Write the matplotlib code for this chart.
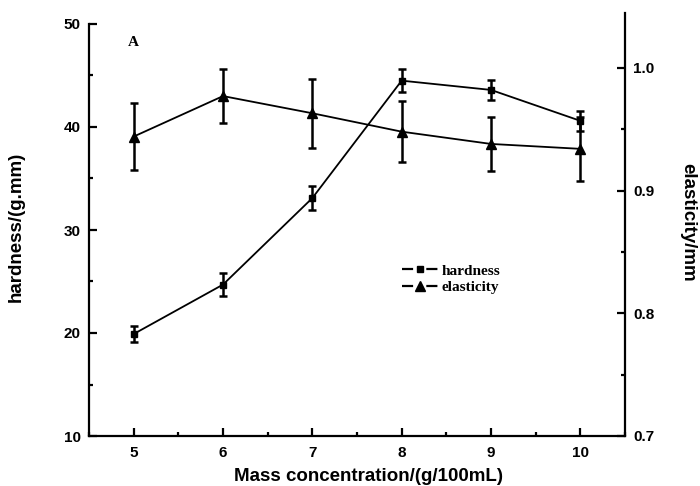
import matplotlib
matplotlib.use("Agg")
import matplotlib.pyplot as plt
from matplotlib.lines import Line2D
from matplotlib.ticker import MultipleLocator

# Data
concentration = [5, 6, 7, 8, 9, 10]
hardness = [19.9, 24.7, 33.1, 44.5, 43.6, 40.6]
hardness_err = [0.8, 1.1, 1.2, 1.15, 1.0, 1.0]
elasticity = [0.944, 0.977, 0.963, 0.948, 0.938, 0.934]
elasticity_err = [0.027, 0.022, 0.028, 0.025, 0.022, 0.026]
series_labels = ['hardness', 'elasticity']

plt.rcParams['font.family'] = ['Liberation Sans', 'DejaVu Sans']
plt.rcParams['lines.scale_dashes'] = False

FW, FH = 700, 486
fig = plt.figure(figsize=(FW / 100, FH / 100), dpi=100)
L, B, W = 89 / FW, 50 / FH, (625 - 89) / FW
ax = fig.add_axes([L, B, W, (436 - 24) / FH])
ax2 = fig.add_axes([L, B, W, (436 - 13) / FH])
ax2.patch.set_alpha(0)

lw_sp = 1.6
for a in (ax, ax2):
    for s in a.spines.values():
        s.set_linewidth(lw_sp)
    a.spines['top'].set_visible(False)

ax.spines['right'].set_visible(False)
ax2.spines['left'].set_visible(False)
ax2.spines['bottom'].set_visible(False)
ax2.yaxis.tick_right()
ax2.xaxis.set_visible(False)

ax.set_xlim(4.5, 10.5)
ax2.set_xlim(4.5, 10.5)
ax.set_ylim(10, 50)
ax2.set_ylim(0.7, 1.0447)

ax.xaxis.set_major_locator(MultipleLocator(1))
ax.xaxis.set_minor_locator(MultipleLocator(0.5))
ax.yaxis.set_major_locator(MultipleLocator(10))
ax.yaxis.set_minor_locator(MultipleLocator(5))
ax2.yaxis.set_major_locator(MultipleLocator(0.1))
ax2.yaxis.set_minor_locator(MultipleLocator(0.05))
ax2.yaxis.set_major_formatter(plt.FormatStrFormatter('%.1f'))

for a in (ax, ax2):
    a.tick_params(which='major', direction='in', length=6, width=1.6,
                  labelsize=11)
    a.tick_params(which='minor', direction='in', length=3, width=1.6)
    for lab in a.get_xticklabels() + a.get_yticklabels():
        lab.set_fontweight('bold')
ax.tick_params(axis='x', pad=7)
ax.tick_params(axis='y', pad=6)
ax2.tick_params(axis='y', pad=6)

ax.errorbar(concentration, hardness, yerr=hardness_err, color='black',
            marker='s', markersize=5, linewidth=1.3, elinewidth=1.8,
            capsize=3, capthick=1.8)
ax2.errorbar(concentration, elasticity, yerr=elasticity_err, color='black',
             marker='^', markersize=7, linewidth=1.3, elinewidth=1.8,
             capsize=3, capthick=1.8)

fig.text(368 / FW, 1 - 476 / FH, 'Mass concentration/(g/100mL)', fontsize=13.5,
         fontweight='bold', ha='center', va='center')
fig.text(16 / FW, 1 - 227 / FH, 'hardness/(g.mm)', fontsize=13.5,
         fontweight='bold', rotation=90, ha='center', va='center')
fig.text(688 / FW, 1 - 222 / FH, 'elasticity/mm', fontsize=13.5,
         fontweight='bold', rotation=270, ha='center', va='center')

ax.text(5.0, 48.25, 'A', fontsize=11, fontweight='bold',
        family=['Liberation Serif'], ha='center', va='center')

handles = [Line2D([], [], color='black', marker='s', markersize=4.5, lw=1.6,
                  dashes=(8, 9.5)),
           Line2D([], [], color='black', marker='^', markersize=6.5, lw=1.6,
                  dashes=(8, 9.5))]
leg = ax.legend(handles, series_labels, frameon=False,
                loc='center left', bbox_to_anchor=((402 - 89) / 536, (436 - 279) / 412),
                prop={'family': 'Liberation Serif', 'weight': 'bold', 'size': 11},
                handlelength=2.35, handletextpad=0.26, labelspacing=0.18,
                borderpad=0, borderaxespad=0)

fig.savefig('out.png', dpi=100)
